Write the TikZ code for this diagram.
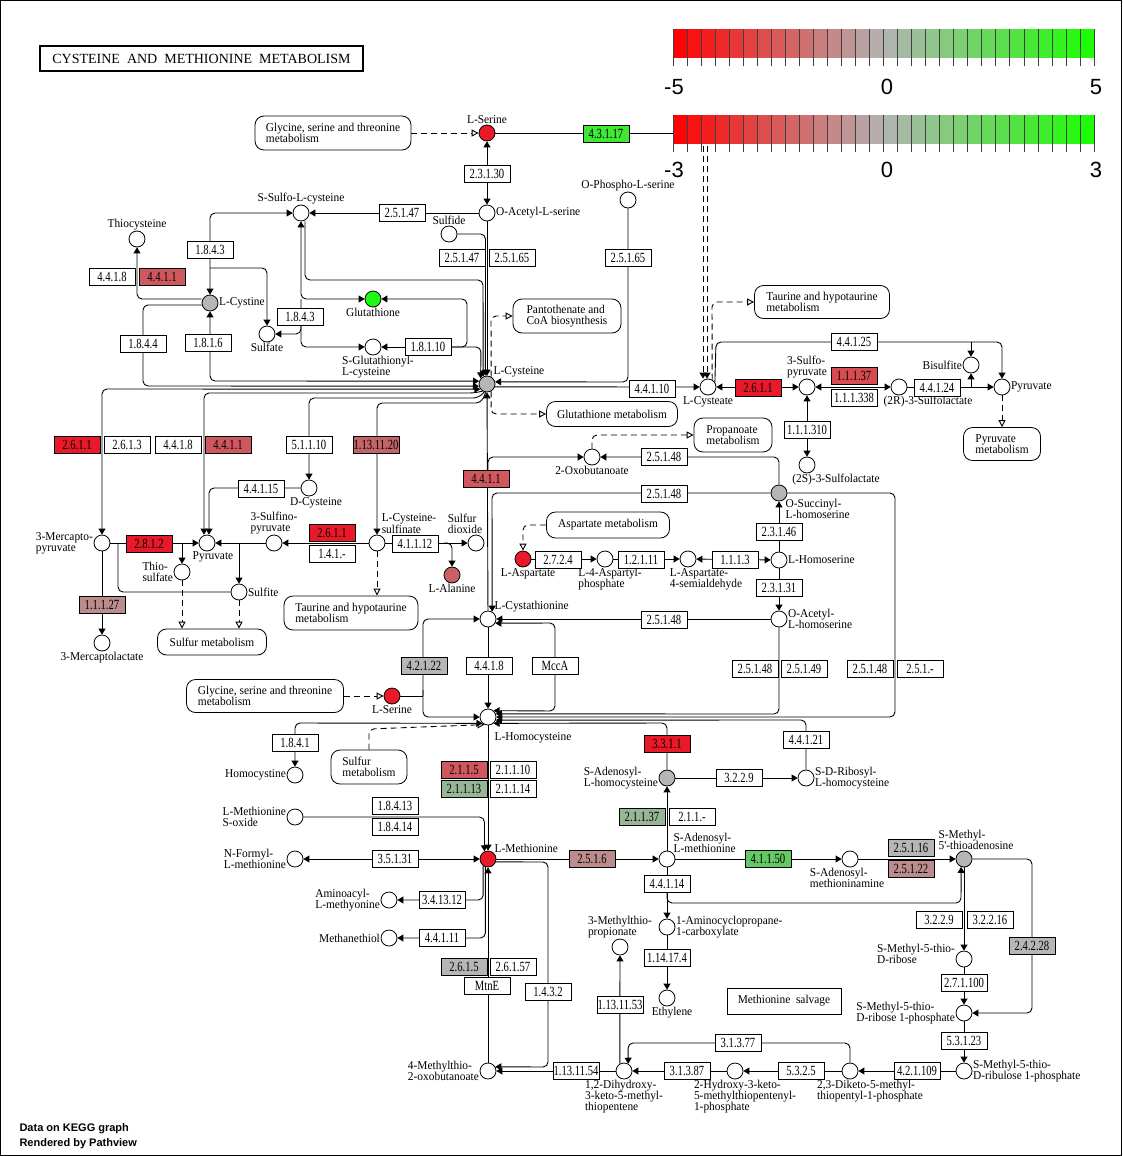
\documentclass[tikz,border=0pt]{standalone}
\usepackage{fontspec}
\setmainfont{Liberation Serif}
\newfontfamily\kgfont{Liberation Serif}[FakeStretch=0.95]
\newfontfamily\ecfont{Liberation Serif}[FakeStretch=0.76]
\newfontfamily\lgfont{Liberation Sans}
\usetikzlibrary{arrows.meta,positioning,backgrounds}

\definecolor{kred}{RGB}{232,26,42}
\definecolor{kredA}{RGB}{206,88,94}
\definecolor{kredB}{RGB}{214,76,82}
\definecolor{kredC}{RGB}{196,100,102}
\definecolor{kbrown}{RGB}{186,140,140}
\definecolor{kgrn}{RGB}{150,182,150}
\definecolor{kgrnB}{RGB}{100,200,100}
\definecolor{kgrnC}{RGB}{62,232,52}
\definecolor{kgrey}{RGB}{182,182,182}
\definecolor{kala}{RGB}{200,96,100}
\definecolor{kgsh}{RGB}{30,250,20}
\definecolor{barred}{RGB}{255,0,0}
\definecolor{bargreen}{RGB}{25,255,0}
\definecolor{bargrey}{RGB}{180,180,180}

\tikzset{
  cpd/.style={circle,draw,fill=white,minimum size=16pt,inner sep=0pt,line width=0.8pt},
  enz/.style={draw,fill=white,minimum width=46pt,minimum height=17pt,inner sep=0pt,line width=0.8pt,
    font=\ecfont\fontsize{14}{14}\selectfont},
  mapbox/.style={draw,fill=white,rounded corners=9pt,align=left,inner xsep=8pt,inner ysep=2pt,
    line width=0.8pt,font=\kgfont\fontsize{12}{11}\selectfont},
  every label/.style={font=\kgfont\fontsize{12}{11}\selectfont,inner sep=0.5pt,align=left},
  kline/.style={line width=0.9pt,rounded corners=5pt},
  kar/.style={kline,-{Triangle[length=6pt,width=7pt]}},
  kar2/.style={kline,{Triangle[length=6pt,width=7pt]}-{Triangle[length=6pt,width=7pt]}},
  kmap/.style={kline,dash pattern=on 6pt off 4pt,-{Triangle[open,length=7pt,width=7pt]}},
  keynum/.style={font=\lgfont\fontsize{22}{22}\selectfont,inner sep=0pt},
}

\begin{document}
\begin{tikzpicture}[x=1pt,y=-1pt]
\useasboundingbox (0,0) rectangle (1122,1156);
\draw[line width=1pt] (0.5,0.5) rectangle (1121.5,1155.5);

% title
\node[draw,line width=2pt,minimum width=323pt,minimum height=25pt,inner sep=0pt,
  font=\fontsize{14}{14}\selectfont] (title) at (201.5,58.5) {CYSTEINE\ \ AND\ \ METHIONINE\ \ METABOLISM};

% compounds
\node[cpd,fill=kred,label=above:L-Serine] (ser1) at (487,133) {};
\node[cpd,label=right:O-Acetyl-L-serine] (oaser) at (487,213) {};
\node[cpd,label=above:Sulfide] (sulfide) at (449,234) {};
\node[cpd,label=above:O-Phospho-L-serine] (opser) at (628,200) {};
\node[cpd,label=above:S-Sulfo-L-cysteine] (ssulfo) at (301,213) {};
\node[cpd,label=above:Thiocysteine] (thiocys) at (137,239) {};
\node[cpd,fill=kgrey,label=right:L-Cystine] (cystine) at (210,303) {};
\node[cpd,label=below:Sulfate] (sulfate) at (267,334) {};
\node[cpd,fill=kgsh,label=below:Glutathione] (gsh) at (373,299) {};
\node[cpd,label={[xshift=5pt]below:S-Glutathionyl-\\L-cysteine}] (gscys) at (373,347) {};
\node[cpd,fill=kgrey,label=above right:L-Cysteine] (lcys) at (487,384) {};
\node[cpd,label=below:L-Cysteate] (lcyst) at (708,387) {};
\node[cpd,label=above:3-Sulfo-\\pyruvate] (sulfopyr) at (807,387) {};
\node[cpd,label={[xshift=29pt]below:(2R)-3-Sulfolactate}] (slac2r) at (899,387) {};
\node[cpd,label=left:Bisulfite] (bisulf) at (971,365) {};
\node[cpd,label=right:Pyruvate] (pyrB) at (1002,387) {};
\node[cpd,label={[xshift=29pt]below:(2S)-3-Sulfolactate}] (slac2s) at (807,465) {};
\node[cpd,label=below:2-Oxobutanoate] (oxobut) at (592,457) {};
\node[cpd,fill=kgrey,label=below right:O-Succinyl-\\L-homoserine] (osuchs) at (779,493) {};
\node[cpd,label=right:L-Homoserine] (lhser) at (779,560) {};
\node[cpd,label=right:O-Acetyl-\\L-homoserine] (oachs) at (779,619) {};
\node[cpd,fill=kred,label={[xshift=5pt]below:L-Aspartate}] (lasp) at (523,559) {};
\node[cpd,label={[xshift=5pt]below:L-4-Aspartyl-\\phosphate}] (asppho) at (605,559) {};
\node[cpd,label={[xshift=18pt]below:L-Aspartate-\\4-semialdehyde}] (aspsa) at (688,559) {};
\node[cpd,label=above right:L-Cystathionine] (cysta) at (488,619) {};
\node[cpd,fill=kala,label=below:L-Alanine] (lala) at (452,575) {};
\node[cpd,label={[xshift=-11pt]above:Sulfur\\dioxide}] (sdiox) at (476,543) {};
\node[cpd,label={[xshift=32pt]above:L-Cysteine-\\sulfinate}] (cyssulf) at (377,543) {};
\node[cpd,label=above:3-Sulfino-\\pyruvate] (sfpyr) at (274,543) {};
\node[cpd,label={[xshift=6pt]below:Pyruvate}] (pyrA) at (207,543) {};
\node[cpd,label=left:3-Mercapto-\\pyruvate] (mcpyr) at (102,543) {};
\node[cpd,label=left:Thio-\\sulfate] (thiosulf) at (182,572) {};
\node[cpd,label=right:Sulfite] (sulfite) at (239,592) {};
\node[cpd,label=below:3-Mercaptolactate] (mclac) at (102,643) {};
\node[cpd,label={[xshift=7pt]below:D-Cysteine}] (dcys) at (309,488) {};
\node[cpd,fill=kred,label=below:L-Serine] (ser2) at (392,696) {};
\node[cpd,label={[xshift=45pt,yshift=-6pt]below:L-Homocysteine}] (hcy) at (488,717) {};
\node[cpd,label=left:Homocystine] (hcystine) at (295,775) {};
\node[cpd,label=left:L-Methionine\\S-oxide] (metso) at (295,817) {};
\node[cpd,label=left:N-Formyl-\\L-methionine] (fmet) at (295,859) {};
\node[cpd,fill=kred,label=above right:L-Methionine] (met) at (488,859) {};
\node[cpd,label=left:Aminoacyl-\\L-methyonine] (aminoac) at (389,900) {};
\node[cpd,label=left:Methanethiol] (mesh) at (389,938) {};
\node[cpd,fill=kgrey,label=left:S-Adenosyl-\\L-homocysteine] (sah) at (667,778) {};
\node[cpd,label=right:S-D-Ribosyl-\\L-homocysteine] (srh) at (806,778) {};
\node[cpd,label=above right:S-Adenosyl-\\L-methionine] (sam) at (667,859) {};
\node[cpd,label={[xshift=-3pt]below:S-Adenosyl-\\methioninamine}] (dcsam) at (850,859) {};
\node[cpd,fill=kgrey,label={[xshift=12pt]above:S-Methyl-\\5'-thioadenosine}] (mta) at (964,859) {};
\node[cpd,label=right:1-Aminocyclopropane-\\1-carboxylate] (acc) at (667,927) {};
\node[cpd,label=above:3-Methylthio-\\propionate] (mtprop) at (620,947) {};
\node[cpd,label={[xshift=5pt]below:Ethylene}] (ethyl) at (667,998) {};
\node[cpd,label={[yshift=5pt]left:S-Methyl-5-thio-\\D-ribose}] (mtr) at (964,959) {};
\node[cpd,label=left:S-Methyl-5-thio-\\D-ribose 1-phosphate] (mtrp) at (964,1013) {};
\node[cpd,label=right:S-Methyl-5-thio-\\D-ribulose 1-phosphate] (mtrup) at (964,1071) {};
\node[cpd,label={[xshift=20pt]below:2,3-Diketo-5-methyl-\\thiopentyl-1-phosphate}] (dkmtp) at (850,1071) {};
\node[cpd,label={[xshift=10pt]below:2-Hydroxy-3-keto-\\5-methylthiopentenyl-\\1-phosphate}] (hkmtp) at (735,1071) {};
\node[cpd,label={below:1,2-Dihydroxy-\\3-keto-5-methyl-\\thiopentene}] (dhkmp) at (624,1071) {};
\node[cpd,label=left:4-Methylthio-\\2-oxobutanoate] (mtob) at (488,1071) {};

% enzymes
\node[enz,fill=kgrnC] (e4317) at (606,134) {4.3.1.17};
\node[enz] (e23130) at (487,174) {2.3.1.30};
\node[enz] (e25147a) at (402,213) {2.5.1.47};
\node[enz] (e25147b) at (462,258) {2.5.1.47};
\node[enz] (e25165a) at (512,258) {2.5.1.65};
\node[enz] (e25165b) at (628,258) {2.5.1.65};
\node[enz] (e1843a) at (210,250) {1.8.4.3};
\node[enz] (e4418a) at (112,277) {4.4.1.8};
\node[enz,fill=kredA] (e4411a) at (162,277) {4.4.1.1};
\node[enz] (e1843b) at (300,317) {1.8.4.3};
\node[enz] (e1844) at (143,344) {1.8.4.4};
\node[enz] (e1816) at (208,343) {1.8.1.6};
\node[enz] (e18110) at (428,347) {1.8.1.10};
\node[enz] (e44110) at (652,389) {4.4.1.10};
\node[enz,fill=kred] (e2611a) at (758,388) {2.6.1.1};
\node[enz,fill=kredB] (e11137) at (854,376) {1.1.1.37};
\node[enz] (e111338) at (854,398) {1.1.1.338};
\node[enz] (e44124) at (937,388) {4.4.1.24};
\node[enz] (e44125) at (854,342) {4.4.1.25};
\node[enz] (e111310) at (807,430) {1.1.1.310};
\node[enz] (e25148a) at (664,457) {2.5.1.48};
\node[enz] (e25148b) at (664,494) {2.5.1.48};
\node[enz,fill=kredA] (e4411b) at (486,479) {4.4.1.1};
\node[enz,fill=kred] (e2611b) at (77,445) {2.6.1.1};
\node[enz] (e2613) at (127,445) {2.6.1.3};
\node[enz] (e4418b) at (178,445) {4.4.1.8};
\node[enz,fill=kredA] (e4411c) at (228,445) {4.4.1.1};
\node[enz] (e51110) at (309,445) {5.1.1.10};
\node[enz,fill=kredC] (e1131120) at (376,445) {1.13.11.20};
\node[enz] (e44115) at (261,489) {4.4.1.15};
\node[enz,fill=kred] (e2611c) at (332,533) {2.6.1.1};
\node[enz] (e141) at (332,554) {1.4.1.-};
\node[enz,fill=kred] (e2812) at (149,544) {2.8.1.2};
\node[enz] (e41112) at (415,544) {4.1.1.12};
\node[enz,fill=kbrown] (e11127) at (102,605) {1.1.1.27};
\node[enz] (e23146) at (779,532) {2.3.1.46};
\node[enz] (e2724) at (558,560) {2.7.2.4};
\node[enz] (e12111) at (641,560) {1.2.1.11};
\node[enz] (e1113) at (735,560) {1.1.1.3};
\node[enz] (e23131) at (779,588) {2.3.1.31};
\node[enz] (e25148c) at (664,620) {2.5.1.48};
\node[enz] (e25148d) at (755,669) {2.5.1.48};
\node[enz] (e25149) at (804,669) {2.5.1.49};
\node[enz] (e25148e) at (870,669) {2.5.1.48};
\node[enz] (e2515) at (920,669) {2.5.1.-};
\node[enz,fill=kgrey] (e42122) at (424,666) {4.2.1.22};
\node[enz] (e4418c) at (489,666) {4.4.1.8};
\node[enz] (emcca) at (555,666) {MccA};
\node[enz] (e1841) at (295,743) {1.8.4.1};
\node[enz,fill=kredA] (e2115) at (464,770) {2.1.1.5};
\node[enz] (e21110) at (513,770) {2.1.1.10};
\node[enz,fill=kgrn] (e21113) at (464,789) {2.1.1.13};
\node[enz] (e21114) at (513,789) {2.1.1.14};
\node[enz] (e18413) at (395,806) {1.8.4.13};
\node[enz] (e18414) at (395,827) {1.8.4.14};
\node[enz] (e35131) at (395,859) {3.5.1.31};
\node[enz] (e341312) at (442,900) {3.4.13.12};
\node[enz] (e44111) at (442,938) {4.4.1.11};
\node[enz,fill=kgrey] (e2615) at (464,967) {2.6.1.5};
\node[enz] (e26157) at (513,967) {2.6.1.57};
\node[enz] (emtne) at (487,986) {MtnE};
\node[enz] (e1432) at (548,992) {1.4.3.2};
\node[enz,fill=kred] (e3311) at (667,744) {3.3.1.1};
\node[enz] (e3229a) at (739,778) {3.2.2.9};
\node[enz] (e44121) at (806,740) {4.4.1.21};
\node[enz,fill=kgrn] (e21137) at (642,817) {2.1.1.37};
\node[enz] (e211) at (692,817) {2.1.1.-};
\node[enz,fill=kbrown] (e2516) at (592,859) {2.5.1.6};
\node[enz] (e44114) at (667,884) {4.4.1.14};
\node[enz,fill=kgrnB] (e41150) at (768,859) {4.1.1.50};
\node[enz,fill=kgrey] (e25116) at (911,848) {2.5.1.16};
\node[enz,fill=kbrown] (e25122) at (911,869) {2.5.1.22};
\node[enz] (e3229b) at (939,920) {3.2.2.9};
\node[enz] (e32216) at (990,920) {3.2.2.16};
\node[enz,fill=kgrey] (e24228) at (1032,946) {2.4.2.28};
\node[enz] (e271100) at (964,983) {2.7.1.100};
\node[enz] (e114174) at (667,958) {1.14.17.4};
\node[enz] (e1131153) at (620,1005) {1.13.11.53};
\node[enz] (e53123) at (964,1041) {5.3.1.23};
\node[enz] (e31377) at (738,1043) {3.1.3.77};
\node[enz] (e1131154) at (576,1071) {1.13.11.54};
\node[enz] (e31387) at (687,1071) {3.1.3.87};
\node[enz] (e5325) at (801,1071) {5.3.2.5};
\node[enz] (e421109) at (917,1071) {4.2.1.109};
\node[draw,fill=white,line width=0.8pt,minimum width=114pt,minimum height=26pt,
  font=\kgfont\fontsize{12}{11}\selectfont] (msalv) at (784,1001) {Methionine\ \ salvage};

% pathway maps
\node[mapbox,minimum width=156pt,minimum height=34pt] (gly1) at (333,133) {Glycine, serine and threonine\\metabolism};
\node[mapbox,minimum width=108pt,minimum height=34pt] (panto) at (567,316) {Pantothenate and\\CoA biosynthesis};
\node[mapbox,minimum width=135pt,minimum height=33pt] (taur1) at (822,302) {Taurine and hypotaurine\\metabolism};
\node[mapbox,minimum width=131pt,minimum height=25pt] (gshmap) at (612,414) {Glutathione metabolism};
\node[mapbox,minimum width=78pt,minimum height=34pt] (propmap) at (733,435) {Propanoate\\metabolism};
\node[mapbox,minimum width=77pt,minimum height=33pt] (pyrmap) at (1002,444) {Pyruvate\\metabolism};
\node[mapbox,minimum width=123pt,minimum height=26pt] (aspmap) at (608,525) {Aspartate metabolism};
\node[mapbox,minimum width=134pt,minimum height=34pt] (taur2) at (351,613) {Taurine and hypotaurine\\metabolism};
\node[mapbox,minimum width=109pt,minimum height=26pt] (sulfmap1) at (212,642) {Sulfur metabolism};
\node[mapbox,minimum width=157pt,minimum height=33pt] (gly2) at (265,696) {Glycine, serine and threonine\\metabolism};
\node[mapbox,minimum width=76pt,minimum height=34pt] (sulfmap2) at (369,767) {Sulfur\\metabolism};

\begin{scope}[on background layer]
% serine and cysteine
\draw[kmap] (gly1) -- (ser1);
\draw[kline] (ser1) -- (690,133);
\draw[kar2] (ser1) -- (oaser);
\draw[kar] (oaser) -- (ssulfo);
\draw[kar2] (cystine) -- (210,213) -- (ssulfo);
\draw[kar] (210,268) -- (267,268) -- (sulfate);
\draw[kar] ([yshift=4pt]cystine.west) -- (137,299) -- (thiocys);
\draw[kar] ([yshift=-2pt]cystine.west) -- (143,305) -- (143,386) -- (lcys.195);
\draw[kar2] (cystine) -- (210,381) -- (lcys.160);
\draw[kar2] (ssulfo) -- (301,299) -- (gsh);
\draw[kar] (301,299) -- (301,347) -- (gscys);
\draw[kar] (301,326) -- (301,334) -- (sulfate);
\draw[kar] ([xshift=4pt]ssulfo.south) -- (305,280) -- (483,280) -- (lcys.117);
\draw[kar] (e18110) -- (gscys);
\draw[kar] (e18110.east) -- (467,347) -- (467,299) -- (gsh);
\draw[kar] (e18110.east) -- (481,347) -- (lcys.139);
\draw[kar] (sulfide) -- (485.5,234) -- (lcys.101);
\draw[kar] (oaser) -- (lcys);
\draw[kar] (opser) -- (628,382) -- (lcys.15);
\draw[kar] (lcys.-20) -- (lcyst);
\draw[kar,dash pattern=on 6pt off 4pt] (703,146) -- (lcyst.north -| 703,0);
\draw[kar,dash pattern=on 6pt off 4pt] (707,146) -- (lcyst.north -| 707,0);
\draw[kmap] (lcyst.60) -- (712,302) -- (taur1);
\draw[kar] (lcyst.35) -- (716,342) -- (1002,342) -- (pyrB);
\draw[kar] (971,342) -- (bisulf);
\draw[kar2] (lcyst) -- (sulfopyr);
\draw[kar2] (sulfopyr) -- (slac2r);
\draw[kar] (slac2r) -- (pyrB);
\draw[kar] (971,387) -- (bisulf);
\draw[kar2] (sulfopyr) -- (slac2s);
\draw[kmap] (pyrB) -- (pyrmap);
\draw[kmap] (lcys.60) -- (491,316) -- (panto);
\draw[kmap] (lcys.-60) -- (491,414) -- (gshmap);
% left side of L-cysteine
\draw[kar2] (mcpyr) -- (102,389) -- (lcys.218);
\draw[kar] (lcys.238) -- (474,393) -- (204,393) -- ([xshift=-3pt]pyrA.north);
\draw[kar] (lcys.252) -- (478,398) -- (309,398) -- (dcys);
\draw[kar] (lcys.262) -- (481,403) -- (377,403) -- (cyssulf);
\draw[kar] (dcys) -- (209,488) -- ([xshift=2pt]pyrA.north);
\draw[kar] (mcpyr) -- (pyrA);
\draw[kar] (thiosulf |- pyrA) -- (thiosulf);
\draw[kline] (118,543) -- (118,592) -- (sulfite);
\draw[kar] (sfpyr) -- (pyrA);
\draw[kar] (sulfite |- sfpyr) -- (sulfite);
\draw[kar] (cyssulf) -- (sfpyr);
\draw[kar] (cyssulf) -- (sdiox);
\draw[kar] (444,543) -| (lala);
\draw[kmap] (cyssulf) -- (cyssulf |- taur2.north);
\draw[kmap] (thiosulf) -- (thiosulf |- sulfmap1.north);
\draw[kmap] (sulfite) -- (sulfite |- sulfmap1.north);
\draw[kar] (mcpyr) -- (mclac);
% cystathionine and homocysteine
\draw[kar] (cysta) -- (lcys);
\draw[kar] (488,472) -- (488,457) -- (oxobut);
\draw[kar] (osuchs) |- (oxobut);
\draw[kmap] (oxobut) -- (592,435) -- (propmap);
\draw[kar] (osuchs) -- (492,493) -- (cysta.60);
\draw[kar] (osuchs) -- (895,493) -- (895,717) -- (hcy);
\draw[kar] (lhser) -- (osuchs);
\draw[kar] (lhser) -- (oachs);
\draw[kar] (oachs) -- (cysta);
\draw[kar] (oachs) -- (779,714) -- (hcy.22);
\draw[kar2] (cysta.-30) -- (555,623) -- (555,711) -- (hcy.49);
\draw[kline] (ser2) -- (423,696);
\draw[kar] (423,696) -- (423,619) -- (cysta);
\draw[kar] (423,690) -- (423,717) -- (hcy);
\draw[kar] (cysta) -- (hcy);
\draw[kmap] (gly2) -- (ser2);
\draw[kar2] (hcy.229) -- (295,723) -- (hcystine);
\draw[kmap] (sulfmap2.north) -- (369,729) -- (hcy.245);
\draw[kmap] (aspmap) -- (523,525) -- (lasp);
\draw[kar] (lasp) -- (asppho);
\draw[kar] (asppho) -- (aspsa);
\draw[kar2] (aspsa) -- (lhser);
% methionine
\draw[kar] (hcy) -- (met);
\draw[kar] (metso) -- (metso -| met.115) -- (met.115);
\draw[kar2] (fmet) -- (met);
\draw[kar] (met.235) -- (met.235 |- aminoac) -- (aminoac);
\draw[kar] (met.252) -- (met.252 |- mesh) -- (mesh);
\draw[kar] (mtob) -- (met);
\draw[kar] (met.-20) -- (548,862) -- (548,1067) -- (mtob.30);
\draw[kar] (dhkmp) -- (mtob);
% SAM cycle and salvage
\draw[kar] (met) -- (sam);
\draw[kar] (sam) -- (sah);
\draw[kar] (sah) -- (667,723) -- (hcy.-49);
\draw[kar] (sah) -- (srh);
\draw[kar] (srh) -- (806,720) -- (hcy.-22);
\draw[kar] (sam) -- (dcsam);
\draw[kar] (dcsam) -- (mta);
\draw[kar] (sam) -- (acc);
\draw[kar] (667,893) -- (667,903) -- (961,903) -- (mta.250);
\draw[kar] (mta) -- (mtr);
\draw[kar] (mta) -- (1032,859) -- (1032,1013) -- (mtrp);
\draw[kar] (mtr) -- (mtrp);
\draw[kar] (mtrp) -- (mtrup);
\draw[kar] (mtrup) -- (dkmtp);
\draw[kar] (dkmtp) -- (hkmtp);
\draw[kar] (hkmtp) -- (dhkmp);
\draw[kar] (dkmtp) -- (850,1043) -- (628,1043) -- (dhkmp.60);
\draw[kar] (dhkmp.120) -- (mtprop);
\draw[kar] (acc) -- (ethyl);
\end{scope}

% colour keys
\foreach \yb in {29,115} {
  \foreach \i in {0,...,29} {
    \pgfmathtruncatemacro{\p}{\i<15 ? (\i+0.5)*100/15 : (\i-14.5)*100/15}
    \ifnum\i<15 \colorlet{segc}{bargrey!\p!barred}\else\colorlet{segc}{bargreen!\p!bargrey}\fi
    \fill[segc] (673+\i*14.03,\yb) rectangle (687.03+\i*14.03,\yb+29);
  }
  \foreach \i in {0,...,30}
    \draw[line width=0.5pt,black!75] (673+\i*14.03,\yb) -- (673+\i*14.03,\yb+37);
}
\node[keynum] (lgm5) at (674,87) {-5};
\node[keynum] (lgza) at (887,87) {0};
\node[keynum] (lgp5) at (1096,87) {5};
\node[keynum] (lgm3) at (674,170) {-3};
\node[keynum] (lgzb) at (887,170) {0};
\node[keynum] (lgp3) at (1096,170) {3};

\node[anchor=west,font=\lgfont\bfseries\fontsize{11}{11}\selectfont] (dat1) at (16,1129) {Data on KEGG graph};
\node[anchor=west,font=\lgfont\bfseries\fontsize{11}{11}\selectfont] (dat2) at (16,1144) {Rendered by Pathview};
\end{tikzpicture}
\end{document}
